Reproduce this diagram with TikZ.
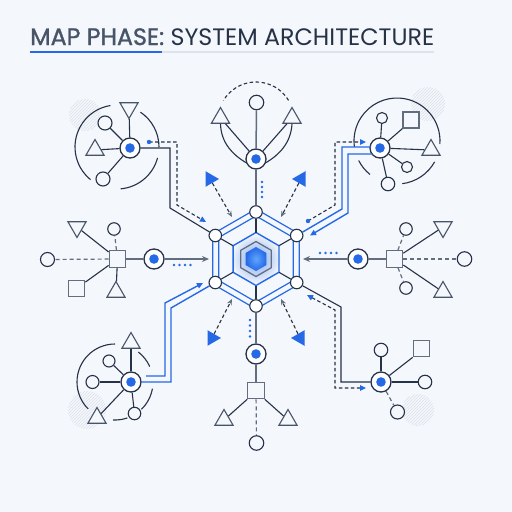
\documentclass[tikz,border=0pt]{standalone}
\usepackage{fontspec}
\setmainfont{Poppins}
\usetikzlibrary{arrows.meta,patterns,shapes.geometric}
\definecolor{bg}{RGB}{244,247,251}
\definecolor{navy}{RGB}{38,50,72}
\definecolor{slate}{RGB}{98,110,128}
\definecolor{tslate}{RGB}{72,85,104}
\definecolor{accent}{RGB}{37,105,230}
\definecolor{acl}{RGB}{95,165,255}
\definecolor{lgray}{RGB}{222,227,235}
\definecolor{hatch}{RGB}{220,225,233}
\newcommand{\myhex}[1]{(90:#1pt) -- (30:#1pt) -- (-30:#1pt) -- (-90:#1pt) -- (-150:#1pt) -- (150:#1pt) -- cycle}
\tikzset{
  ln/.style={navy,line width=1.1pt},
  gln/.style={slate,line width=1.5pt},
  gdash/.style={slate,line width=1.2pt,dash pattern=on 4pt off 3pt},
  ndash/.style={navy,line width=1.1pt,dash pattern=on 3.5pt off 2.5pt},
  bln/.style={accent,line width=1.4pt},
  hub/.style={circle,draw=navy,fill=white,line width=1.3pt,minimum size=20pt,inner sep=0pt,
    path picture={\fill[accent] (path picture bounding box.center) circle (4.8pt);}},
  vc/.style={circle,draw=navy,fill=white,line width=1.1pt,minimum size=12.5pt,inner sep=0pt},
  sc/.style={circle,draw=navy,fill=bg,line width=1.1pt,minimum size=14pt,inner sep=0pt},
  sq/.style={rectangle,draw=slate,fill=bg,line width=1.2pt,minimum size=16.5pt,inner sep=0pt},
  tup/.style={regular polygon,regular polygon sides=3,draw=tslate,fill=bg,line width=1.1pt,minimum size=21pt,inner sep=0pt},
  tdn/.style={tup,shape border rotate=180},
  btr/.style={regular polygon,regular polygon sides=3,fill=accent,minimum size=18pt,inner sep=0pt,shape border rotate=-90},
  btl/.style={btr,shape border rotate=90},
  garr/.style={-{Stealth[length=7pt,width=6pt]}},
  sarr/.style={-{Stealth[length=6pt,width=5pt,color=slate]}},
  barr/.style={-{Triangle[length=6pt,width=5.5pt,color=accent]}},
  barr2/.style={{Triangle[length=6pt,width=5.5pt,color=accent]}-{Triangle[length=6pt,width=5.5pt,color=accent]}},
  bdot/.style={accent},
}
\begin{document}
\begin{tikzpicture}[x=1pt,y=-1pt]
\fill[bg] (0,0) rectangle (512,512);
\useasboundingbox (0,0) rectangle (512,512);

% ---------- title ----------
\node[anchor=base west,inner sep=0pt] (title) at (30,45)
  {\resizebox{404pt}{!}{\color{tslate}{\addfontfeatures{FakeBold=1.3}MAP PHASE:}\ \color{navy}SYSTEM ARCHITECTURE}};
\coordinate (u0) at (30,52);
\coordinate (u1) at (162,52);
\coordinate (u2) at (434,52);
\draw[lgray,line width=1.8pt] (u1) -- (u2);
\draw[accent,line width=1.8pt] (u0) -- (u1);

% ---------- hatched patches ----------
\fill[pattern=north east lines,pattern color=hatch] (85,115) circle (16pt);
\fill[pattern=north east lines,pattern color=hatch] (428,104) circle (17pt);
\fill[pattern=north east lines,pattern color=hatch] (87,410) circle (19pt);
\fill[pattern=north east lines,pattern color=hatch] (418,410) circle (16pt);

% ---------- central hexagons ----------
\begin{scope}[shift={(256,259)}]
  \draw[accent,line width=1.2pt] \myhex{43};
  \draw[accent,line width=1.2pt] \myhex{50};
  \shade[inner color=accent!60!white,outer color=bg] (0,0) circle (25pt);
  \draw[accent,line width=1.4pt] \myhex{26.5};
  \draw[slate,line width=1.3pt] \myhex{17.5};
  \shade[inner color=acl,outer color=accent] \myhex{12};
\end{scope}
\coordinate (i0) at (256,232.5);
\coordinate (i1) at (279,245.7);
\coordinate (i2) at (279,272.3);
\coordinate (i3) at (256,285.5);
\coordinate (i4) at (233,272.3);
\coordinate (i5) at (233,245.7);

% ---------- ring arcs ----------
\draw[ln] (117,147) ++(99:42pt) arc[start angle=99,end angle=231,radius=42pt];
\draw[ln] (117,147) ++(-85:42pt) arc[start angle=-85,end angle=-15,radius=42pt];
\draw[ln] (117,147) ++(0:42pt) arc[start angle=0,end angle=56,radius=42pt];
\draw[ln] (397,141) ++(-4:43pt) arc[start angle=-4,end angle=188,radius=43pt];
\draw[ln] (397,141) ++(207:43pt) arc[start angle=207,end angle=231,radius=43pt];
\draw[ln] (397,141) ++(-83:43pt) arc[start angle=-83,end angle=-29,radius=43pt];
\draw[ln] (115,382) ++(90:38pt) arc[start angle=90,end angle=225,radius=38pt];
\draw[ln] (115,382) ++(24:38pt) arc[start angle=24,end angle=52,radius=38pt];
\draw[ln] (115,382) ++(-46:38pt) arc[start angle=-46,end angle=-10,radius=38pt];
\draw[ln] (115,382) ++(-93:38pt) arc[start angle=-93,end angle=-71,radius=38pt];
\draw[ndash] (256,120) ++(31:38pt) arc[start angle=31,end angle=149,radius=38pt];

% ---------- hexagon vertices ----------
\node[vc] (v0) at (256,212) {};
\node[vc] (v1) at (296.7,235.5) {};
\node[vc] (v2) at (296.7,282.5) {};
\node[vc] (v3) at (256,306) {};
\node[vc] (v4) at (215.3,282.5) {};
\node[vc] (v5) at (215.3,235.5) {};
\foreach \a/\b in {v0/i0,v1/i1,v2/i2,v3/i3,v4/i4,v5/i5} \draw[navy,line width=1.1pt] (\a) -- (\b);

% ---------- top cluster ----------
\node[hub] (th) at (256,159) {};
\node[sc,minimum size=14.5pt] (tc) at (256.5,102.5) {};
\node[tup] (ttl) at (220.5,118) {};
\node[tup] (ttr) at (292,118) {};
\draw[gln] (v0) -- (th);
\draw[gln] (th) -- (tc);
\draw[ln] (th) -- (ttl);
\draw[ln] (th) -- (ttr);
\draw[ln] (ttl.south) .. controls (221,143) and (233,155) .. (th.200);
\draw[ln] (ttr.south) .. controls (291,143) and (279,155) .. (th.-20);

% ---------- bottom cluster ----------
\node[hub] (bh) at (256,354) {};
\node[sq] (bs) at (256,390.5) {};
\node[tup] (bt1) at (224,420) {};
\node[tup] (bt2) at (288,420) {};
\node[sc,minimum size=14.5pt] (bc) at (256.5,443) {};
\draw[gln] (v3) -- (bh);
\draw[gln] (bh) -- (bs);
\draw[ln] (bs.south west) -- (bt1);
\draw[ln] (bs.south east) -- (bt2);
\draw[gdash] (bs) -- (bc);

% ---------- left cluster ----------
\node[hub] (lh) at (154,259) {};
\node[sq] (ls) at (117.5,259) {};
\node[sc,minimum size=12.5pt] (lc1) at (114,229) {};
\node[tdn] (lt1) at (77,227) {};
\node[sc] (lc2) at (47.5,259.5) {};
\node[sq] (ls2) at (76.5,288.5) {};
\node[tup] (lt2) at (116,292) {};
\draw[gln] (lh) -- (ls);
\draw[gdash] (ls) -- (lc1);
\draw[ln] (ls) -- (lt1);
\draw[gdash] (ls) -- (lc2);
\draw[ln] (ls) -- (ls2);
\draw[ln] (ls) -- (lt2);
\coordinate (la) at (209,259);
\draw[gln,garr] (lh) -- (la);

% ---------- right cluster ----------
\node[hub] (rh) at (358,259) {};
\node[sq] (rs) at (394.5,259) {};
\node[sc,minimum size=12.5pt] (rc1) at (406,229) {};
\node[tdn] (rt1) at (443,227) {};
\node[sc,minimum size=14.5pt] (rc2) at (464.5,259) {};
\node[sc,minimum size=12.5pt] (rc3) at (406,288) {};
\node[tup] (rt2) at (443,292) {};
\draw[gln] (rh) -- (rs);
\draw[gdash] (rs) -- (rc1);
\draw[ln] (rs) -- (rt1);
\draw[gdash] (rs) -- (rc2);
\draw[gdash] (rs) -- (rc3);
\draw[ln] (rs) -- (rt2);
\coordinate (ra) at (303,259);
\draw[gln,garr] (rh) -- (ra);

% ---------- top-left cluster ----------
\node[hub] (tlh) at (130,148) {};
\node[tdn] (tlt1) at (129,108) {};
\node[sc] (tlc1) at (105,123) {};
\node[tup] (tlt2) at (95,150) {};
\node[sc] (tlc2) at (103,179) {};
\draw[ln] (tlh) -- (tlt1);
\draw[ln] (tlh) -- (tlc1);
\draw[ln] (tlh) -- (tlt2);
\draw[ln] (tlh) -- (tlc2);

% ---------- top-right cluster ----------
\node[hub] (trh) at (380,148) {};
\node[sc,minimum size=11pt] (trc1) at (382,118) {};
\node[sq,minimum size=16pt] (trs) at (411,120) {};
\node[tup] (trt) at (431,150) {};
\node[sc,minimum size=11pt] (trc2) at (407,167) {};
\node[sc,minimum size=13.5pt] (trc3) at (388,184) {};
\draw[ln] (trh) -- (trc1);
\draw[ln] (trh) -- (trs.south west);
\draw[ln] (trh) -- (trt);
\draw[ln] (trh) -- (trc2);
\draw[ln] (trh) -- (trc3);

% ---------- bottom-left cluster ----------
\node[hub] (blh) at (131,382) {};
\node[tup] (blt1) at (131,343) {};
\node[sc,minimum size=12pt] (blc1) at (109,361) {};
\node[sc,minimum size=13pt] (blc2) at (92.5,382) {};
\node[tup] (blt2) at (97,418) {};
\node[sc,minimum size=12.5pt] (blc3) at (134.5,413.5) {};
\draw[ln] (blh) -- (blt1);
\draw[ln] (blh) -- (blc1);
\draw[ln] (blh) -- (blc2);
\draw[ln] (blh) -- (blt2);
\draw[ln] (blh) -- (blc3);

% ---------- bottom-right cluster ----------
\node[hub] (brh) at (381,382) {};
\node[sc,minimum size=13.5pt] (brc1) at (381,350) {};
\node[sq] (brs) at (421.5,348.5) {};
\node[sc,minimum size=13.5pt] (brc2) at (425,382) {};
\node[sc] (brc3) at (397.5,412) {};
\draw[ln] (brh) -- (brc1);
\draw[ln] (brh) -- (brs.south west);
\draw[ln] (brh) -- (brc2);
\draw[gdash] (brh) -- (brc3);

% ---------- elbow connectors ----------
% top-left
\draw[ln] (tlh) -- (170,148) -- (170,208) -- (v5);
\coordinate (tld) at (149,142);
\coordinate (tla) at (206,222);
\draw[ndash,barr] (tld) -- (177,142) -- (177,205) -- (tla);
\fill[bdot] (tld) circle (2.2pt);
% top-right
\coordinate (trb1) at (371,147);
\coordinate (trb2) at (372.5,154);
\coordinate (tra2) at (310,235.5);
\draw[bln] (trb1) -- (342,147) -- (342,209) -- (v1);
\draw[bln,barr] (trb2) -- (348,154) -- (348,213) -- (tra2);
\coordinate (trd) at (308,221);
\coordinate (tra) at (366,142);
\draw[ndash,barr] (trd) -- (335,205) -- (335,142) -- (tra);
\fill[bdot] (trd) circle (2.2pt);
% bottom-left
\coordinate (blb1) at (146,376);
\coordinate (bla1) at (203,283);
\draw[bln,barr] (blb1) -- (165,376) -- (165,303) -- (bla1);
\draw[bln] (blh) -- (171,382) -- (171,308) -- (v4);
% bottom-right
\draw[ln] (v2) -- (341,307) -- (341,382) -- (brh);
\coordinate (brd1) at (307,295);
\coordinate (brd2) at (366,388);
\draw[ndash,barr2] (brd1) -- (335,310) -- (335,388) -- (brd2);

% ---------- diagonal dashed arrows with blue triangles ----------
\node[btr] (bt_tl) at (210,179) {};
\node[btl] (bt_tr) at (301,179) {};
\node[btr] (bt_bl) at (212,338) {};
\node[btl] (bt_br) at (300,338) {};
\coordinate (da1) at (232,217);
\coordinate (da2) at (281,217);
\coordinate (da3) at (232,299);
\coordinate (da4) at (281,299);
\draw[ndash,sarr] (bt_tl) -- (da1);
\draw[ndash,sarr] (bt_tr) -- (da2);
\draw[ndash,sarr] (bt_bl) -- (da3);
\draw[ndash,sarr] (bt_br) -- (da4);

% ---------- blue dotted marks ----------
\foreach \y in {182,187,192,197} \fill[accent] (262,\y) circle (1.4pt);
\foreach \y in {320,325.5,331,336.5} \fill[accent] (250,\y) circle (1.4pt);
\foreach \x in {174,179.5,185,190.5} \fill[accent] (\x,265) circle (1.4pt);
\foreach \x in {320,325.5,331,336.5} \fill[accent] (\x,253) circle (1.4pt);
\end{tikzpicture}
\end{document}
